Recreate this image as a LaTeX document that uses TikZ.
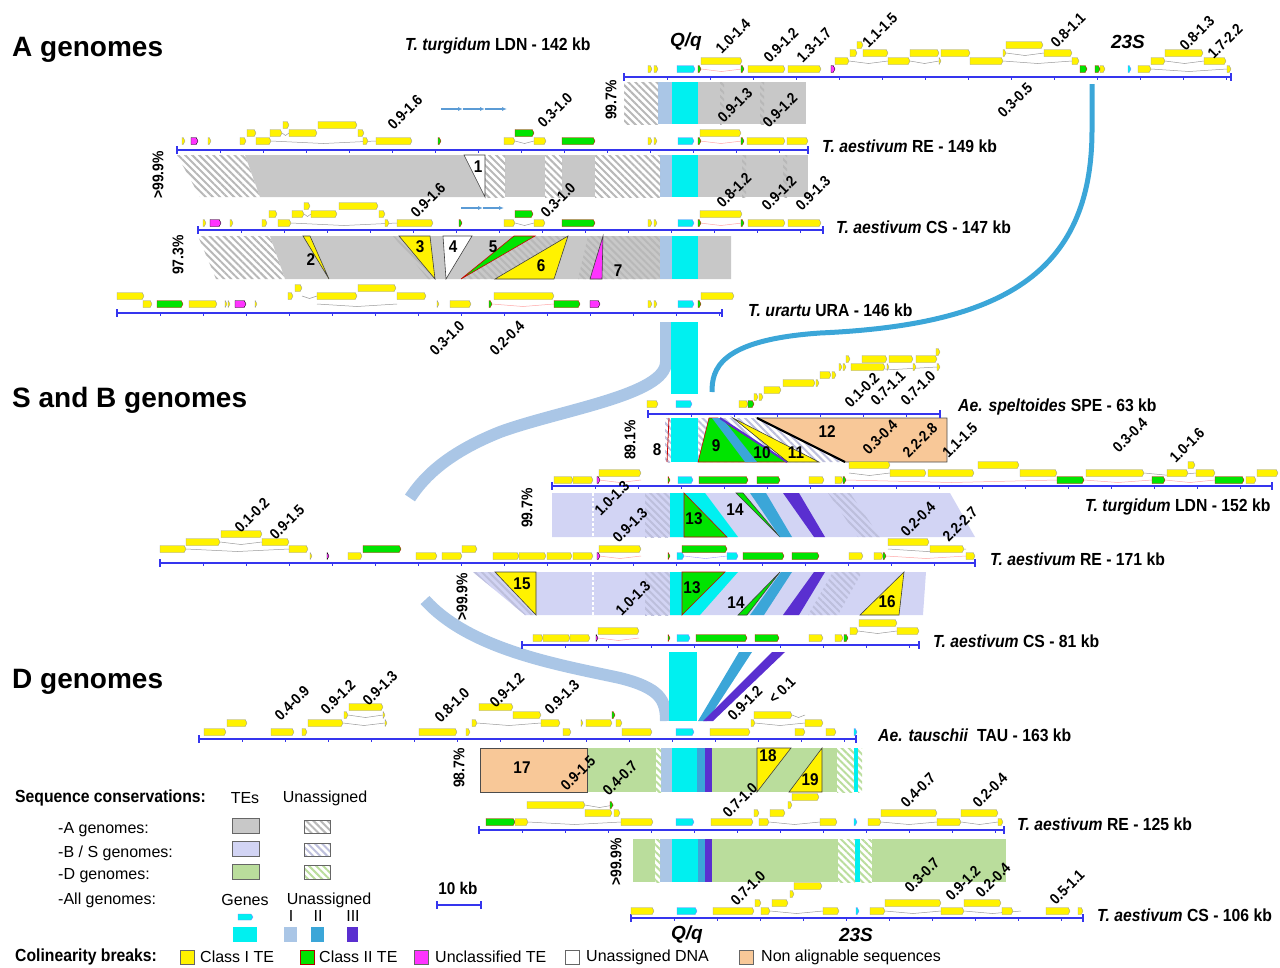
\documentclass[tikz,border=0pt]{standalone}
\usepackage{fontspec}
\setmainfont{Liberation Sans}
\newfontfamily\narrowsf[FakeStretch=0.9]{Liberation Sans}
\usetikzlibrary{arrows.meta,patterns.meta}

\definecolor{bandA}{HTML}{C8C8C8}
\definecolor{bandB}{HTML}{D2D4F4}
\definecolor{bandD}{HTML}{BADD9C}
\definecolor{unI}{HTML}{AAC6E6}
\definecolor{unII}{HTML}{3BA6D8}
\definecolor{unIII}{HTML}{5A2FD0}
\definecolor{cdsc}{HTML}{00F0F0}
\definecolor{teg}{HTML}{00E400}
\definecolor{tem}{HTML}{FF33FF}
\definecolor{peach}{HTML}{F8C898}
\definecolor{axb}{HTML}{3535EE}
\definecolor{tdblue}{HTML}{5B9BD5}

\tikzset{
  gene/.style={draw=black!40, fill=yellow, line width=0.4pt},
  tetwo/.style={draw=red!80!black, fill=teg, line width=0.3pt},
  teun/.style={fill=tem},
  cds/.style={draw=blue!50, fill=cdsc, line width=0.4pt},
  chr/.style={draw=axb, line width=1.1pt},
  intr/.style={draw=black!40, line width=0.5pt},
  pintr/.style={draw=red!35, line width=0.5pt},
  tri/.style={draw=black!75, line width=0.6pt},
  swatch/.style={draw=black!60, line width=0.8pt},
  tdarr/.style={tdblue, line width=1.2pt, -{Latex[length=5pt,width=4pt]}},
  num/.style={font=\narrowsf\bfseries\fontsize{15}{15}\selectfont, rotate=45, inner sep=0pt},
  pct/.style={font=\narrowsf\bfseries\fontsize{15.5}{16}\selectfont, rotate=90, inner sep=0pt},
  brk/.style={font=\narrowsf\bfseries\fontsize{17}{17}\selectfont, inner sep=0pt},
  glab/.style={font=\narrowsf\bfseries\fontsize{17.5}{18}\selectfont, anchor=west, inner sep=0pt},
  locus/.style={font=\bfseries\itshape\fontsize{19}{19}\selectfont, inner sep=0pt},
  title/.style={font=\bfseries\fontsize{28}{28}\selectfont, anchor=west, inner sep=0pt},
  leg/.style={font=\fontsize{16}{16}\selectfont, inner sep=0pt},
  legb/.style={font=\narrowsf\bfseries\fontsize{17.5}{18}\selectfont, anchor=west, inner sep=0pt},
  hatA/.style={pattern={Lines[angle=-45,distance=5pt,line width=2pt]}, pattern color=black!28},
  hatB/.style={pattern={Lines[angle=-45,distance=5pt,line width=2pt]}, pattern color=bandB!90!black},
  hatD/.style={pattern={Lines[angle=-45,distance=5pt,line width=2pt]}, pattern color=bandD}
}

\newcommand\genes[3][gene]{\foreach \a/\b in {#3}{\draw[#1] (\a,#2-3.5) -- (\b-1.8,#2-3.5) -- (\b,#2) -- (\b-1.8,#2+3.5) -- (\a,#2+3.5) -- cycle;}}
\newcommand\introns[2][intr]{\foreach \a/\b/\y in {#2}{\draw[#1] (\a,\y) -- ({(\a+\b)/2},\y+2.5) -- (\b,\y);}}
\newcommand\chrom[3]{%
  \draw[chr] (#1,#3) -- (#2,#3);
  \draw[chr] (#1,#3-4) -- (#1,#3+4) (#2,#3-4) -- (#2,#3+4);
  \foreach \k in {1,...,24}{\pgfmathsetmacro\tx{#1+43*\k}%
    \ifdim\tx pt<#2pt\draw[chr,line width=0.5pt] (\tx,#3) -- (\tx,#3+3);\fi}}

\begin{document}
\begin{tikzpicture}[x=1pt,y=-1pt]
\useasboundingbox (0,0) rectangle (1280,967);

\node[title] (tA) at (12,50) {A genomes};
\node[title] (tB) at (12,400) {S and B genomes};
\node[title] (tD) at (12,682) {D genomes};

\draw[unI, line width=12pt] (666,322) -- (666,362) .. controls (666,395) and (560,410) .. (500,432) .. controls (450,452) and (425,475) .. (410,498);
\draw[unI, line width=12pt] (425,600) .. controls (470,650) and (560,665) .. (620,678) .. controls (660,688) and (666,700) .. (666,721);
\draw[unII, line width=5pt] (1092,84) -- (1092,130) .. controls (1092,275) and (1000,325) .. (820,333) .. controls (718,340) and (712,370) .. (712,392);
\fill[cdsc] (671,322) rectangle (698,394);
\fill[cdsc] (669,652) rectangle (697,721);
\fill[unII] (739,652) -- (752,652) -- (707,721) -- (698,721) -- cycle;
\fill[unIII] (772,652) -- (785,652) -- (713,721) -- (703,721) -- cycle;

\foreach \c/\a/\b in {bandA/698/806, unI/658/672, cdsc/672/698} \fill[fill=\c] (\a,82) rectangle (\b,124);
\foreach \a/\b in {624/658,720/724,760/764} \fill[hatA] (\a,82) rectangle (\b,124);

\fill[hatA] (177,155) -- (245,155) -- (260,197) -- (200,197) -- cycle;
\fill[bandA] (245,155) -- (485,155) -- (485,197) -- (260,197) -- cycle;
\foreach \c/\a/\b in {bandA/505/545, bandA/562/595, unI/660/672, cdsc/672/698, bandA/698/808} \fill[fill=\c] (\a,155) rectangle (\b,197);
\foreach \a/\b in {485/505,545/562,595/660,742/746,783/787} \fill[hatA] (\a,155) rectangle (\b,197);
\draw[tri, fill=white] (464,155) -- (485,155) -- (485,197) -- cycle;

\fill[hatA] (198,236) -- (270,236) -- (285,279) -- (216,279) -- cycle;
\fill[bandA] (270,236) -- (731,236) -- (731,279) -- (285,279) -- cycle;
\fill[hatA] (393,236) -- (400,236) -- (436,279) -- (428,279) -- cycle;
\fill[hatA] (535,236) -- (568,236) -- (495,279) -- (461,279) -- cycle;
\fill[hatA] (588,236) -- (660,236) -- (660,279) -- (578,279) -- cycle;
\fill[unI] (660,236) rectangle (672,279);
\fill[cdsc] (672,236) rectangle (698,279);
\draw[tri, fill=yellow] (303,236) -- (310,236) -- (329,279) -- cycle;
\draw[tri, fill=yellow] (399,236) -- (430,236) -- (435,279) -- cycle;
\draw[tri, fill=white] (443,236) -- (472,236) -- (446,279) -- cycle;
\draw[tri, fill=teg, draw=red!80!black] (514,236) -- (535,236) -- (461,279) -- cycle;
\draw[tri, fill=yellow] (568,236) -- (554,279) -- (495,279) -- cycle;
\draw[tri, fill=tem] (603,236) -- (602,279) -- (590,279) -- cycle;

\fill[hatB] (665,418) rectangle (671,462);
\draw[red!80!black, line width=0.8pt] (669,418) -- (667,462);
\fill[cdsc] (671,418) rectangle (698,462);
\fill[hatB] (698,418) -- (757,418) -- (845,462) -- (698,462) -- cycle;
\draw[tri, fill=teg, draw=red!80!black] (709,418) -- (718,418) -- (787,462) -- (698,462) -- cycle;
\fill[unII] (712,418) -- (722,418) -- (757,462) -- (745,462) -- cycle;
\draw[unIII, line width=2pt] (720,418) -- (787,462);
\draw[tri, fill=yellow] (733,418) -- (819,462) -- (788,462) -- cycle;
\draw[draw=black!70, fill=peach, line width=0.8pt] (757,418) -- (947,418) -- (947,462) -- (845,462) -- cycle;
\draw[line width=2.2pt] (757,418) -- (845,462);

\fill[bandB] (552,493) -- (950,493) -- (975,537) -- (552,537) -- cycle;
\fill[hatB] (645,493) rectangle (670,537);
\fill[hatB] (828,493) -- (850,493) -- (880,537) -- (858,537) -- cycle;
\draw[white, line width=1.5pt, dash pattern=on 3pt off 2pt] (593,493) -- (593,537);
\fill[cdsc] (670,493) -- (705,493) -- (738,537) -- (670,537) -- cycle;
\draw[tri, fill=teg, draw=red!80!black] (684,493) -- (684,537) -- (727,537) -- cycle;
\draw[tri, fill=teg] (736,493) -- (743,493) -- (780,537) -- cycle;
\fill[unII] (750,493) -- (766,493) -- (792,537) -- (780,537) -- cycle;
\fill[unIII] (783,493) -- (799,493) -- (825,537) -- (814,537) -- cycle;

\fill[bandB] (473,572) -- (926,572) -- (923,615) -- (525,615) -- cycle;
\fill[hatB] (473,572) -- (495,572) -- (536,615) -- (525,615) -- cycle;
\fill[hatB] (645,572) rectangle (670,615);
\fill[hatB] (833,572) -- (862,572) -- (838,615) -- (808,615) -- cycle;
\draw[white, line width=1.5pt, dash pattern=on 3pt off 2pt] (593,572) -- (593,615);
\fill[cdsc] (670,572) -- (738,572) -- (700,615) -- (670,615) -- cycle;
\draw[tri, fill=yellow] (495,572) -- (536,572) -- (536,615) -- cycle;
\draw[tri, fill=teg, draw=red!80!black] (682,572) -- (725,572) -- (682,615) -- cycle;
\draw[tri, fill=teg] (780,572) -- (747,615) -- (738,615) -- cycle;
\fill[unII] (781,572) -- (792,572) -- (764,615) -- (750,615) -- cycle;
\fill[unIII] (814,572) -- (825,572) -- (799,615) -- (783,615) -- cycle;
\draw[tri, fill=yellow] (904,572) -- (899,615) -- (860,615) -- cycle;

\foreach \c/\a/\b in {bandD/587/656, unI/661/672, cdsc/672/697, unII/697/705, unIII/705/712, bandD/712/837, cdsc/854/858} \fill[fill=\c] (\a,748) rectangle (\b,792);
\foreach \a/\b in {656/661,837/854,858/862} \fill[hatD] (\a,748) rectangle (\b,792);
\draw[fill=peach, draw=black!70, line width=0.8pt] (480,748) rectangle (587,792);
\draw[tri, fill=yellow] (757,748) -- (791,748) -- (757,792) -- cycle;
\draw[tri, fill=yellow] (822,748) -- (822,792) -- (789,792) -- cycle;

\foreach \c/\a/\b in {bandD/633/655, unI/660/672, cdsc/672/698, unII/698/705, unIII/705/712, bandD/712/838, cdsc/855/860, bandD/872/1006} \fill[fill=\c] (\a,839) rectangle (\b,882);
\foreach \a/\b in {655/660,838/855,860/872} \fill[hatD] (\a,839) rectangle (\b,882);

\introns{849/888/61, 910/939/61, 1003/1072/61, 1006/1044/53, 1151/1227/69, 1165/1204/61}
\introns[pintr]{701/742/69}
\chrom{624}{1231}{77}
\genes{69}{648/652,654/658,748/785,788/821,1100/1105,1138/1151,1227/1231}
\genes[tetwo]{69}{698/701,741/744,1080/1087,1095/1100}
\genes[teun]{69}{831/835}
\genes[cds]{69}{677/695,1128/1131}
\genes{61}{701/742,835/849,888/910,939/941,970/1003,1072/1079,1151/1165,1204/1226}
\genes{53}{850/857,863/888,910/939,941/970,1003/1006,1044/1072,1165/1203}
\genes{45}{857/863,1006/1043}

\introns{271/376/141, 282/289/133, 515/534/141}
\introns[pintr]{700/742/141}
\chrom{177}{808}{150}
\genes{141}{182/185,208/211,240/246,256/271,363/368,376/412,504/515,534/546,648/652,654/657,747/785,787/808}
\genes[teun]{141}{191/198}
\genes[tetwo]{141}{438/441,562/595,698/701,741/744}
\genes[cds]{141}{678/694}
\genes{133}{247/256,270/282,289/317,358/364,700/741}
\genes[tetwo]{133}{515/534}
\genes{125}{283/289,318/357}
\foreach \a/\b in {441/463,463/485,485/507} \draw[tdarr] (\a,109) -- (\b,109);

\introns{291/397/223, 304/311/214, 515/534/223}
\introns[pintr]{700/742/223}
\chrom{198}{823}{230}
\genes{223}{203/206,230/233,262/267,278/291,385/389,397/433,504/515,534/545,648/652,654/657,748/785,788/821}
\genes[teun]{223}{210/221}
\genes[tetwo]{223}{459/462,562/595,698/701,741/744}
\genes[cds]{223}{678/694}
\genes{214}{269/277,292/304,311/337,379/385,700/742}
\genes[tetwo]{214}{515/533}
\genes{206}{304/310,339/378}
\foreach \a/\b in {461/483,483/504} \draw[tdarr] (\a,208) -- (\b,208);

\introns{317/397/304, 302/317/296}
\introns[pintr]{492/554/304}
\chrom{117}{722}{313}
\genes{304}{143/152,189/217,225/227,228/230,255/257,437/439,450/471,648/652,654/657}
\genes[tetwo]{304}{157/183,489/492,554/580,698/701}
\genes[teun]{304}{235/246,590/600}
\genes[cds]{304}{678/694}
\genes{296}{117/144,288/293,317/357,397/426,494/554,701/734}
\genes{288}{295/302,358/396}

\introns{851/937/367}
\chrom{648}{940}{414}
\genes{404}{647/658,739/748}
\genes[tetwo]{404}{748/754}
\genes[cds]{404}{676/692}
\genes{397}{754/758,759/763}
\genes{390}{764/781}
\genes{383}{783/815,816/819}
\genes{375}{820/831,832/836}
\genes{367}{839/842,843/846,851/885,887/889,913/916,937/940}
\genes{359}{846/850,862/887,889/913,916/937}
\genes{352}{936/940}

\introns{849/890/473, 1144/1196/473}
\introns[pintr]{599/641/480, 846/1057/480, 1084/1152/480, 1165/1215/480}
\chrom{552}{1272}{486}
\genes{480}{554/573,573/593,809/824,835/843,1246/1256}
\genes[teun]{480}{597/600}
\genes[cds]{480}{678/693}
\genes[tetwo]{480}{668/670,699/748,757/780,843/846,1057/1084,1152/1165,1215/1244}
\genes{473}{599/641,890/926,928/974,1020/1057,1086/1144,1167/1188,1196/1215,1257/1278}
\genes{465}{849/890,978/1019,1188/1195}

\introns{186/289/549, 220/262/542, 888/966/549}
\introns[pintr]{599/641/556, 886/966/556}
\introns[draw=blue!40]{684/727/556}
\chrom{160}{975}{563}
\genes{556}{310/312,348/362,416/437,442/462,493/519,519/546,547/572,573/593,849/863,874/883,966/975}
\genes[teun]{556}{327/329,597/600}
\genes[cds]{556}{677/684,727/738}
\genes[tetwo]{556}{668/670,743/784,792/819,883/886}
\genes{549}{160/186,289/308,462/477,599/641,930/964}
\genes[tetwo]{549}{363/401,682/727}
\genes{542}{186/220,262/289,888/929}
\genes{534}{221/262}

\introns{858/897/631}
\introns[pintr]{598/639/638}
\chrom{522}{919}{645}
\genes{638}{533/543,543/570,570/590,809/823,835/843}
\genes[teun]{638}{596/598}
\genes[cds]{638}{677/690}
\genes[tetwo]{638}{668/670,696/747,755/779,844/848}
\genes{631}{598/639,850/858,897/919}
\genes{623}{859/897}

\introns{348/383/715, 343/385/723, 477/541/723, 513/541/715, 755/805/723, 792/805/715}
\chrom{199}{856}{739}
\genes{732}{204/226,271/294,302/307,419/457,466/470,563/571,622/652,710/750,795/805,826/836}
\genes[cds]{732}{676/694,854/857}
\genes{723}{227/247,308/343,385/387,472/477,541/560,581/583,586/612,616/622,751/755,805/823}
\genes{715}{344/348,383/385,513/541,754/792}
\genes[tetwo]{715}{612/615}
\genes{707}{349/383,479/513}

\introns{528/621/822, 769/820/822, 881/937/822, 961/998/822, 585/614/805}
\chrom{479}{1004}{830}
\genes[tetwo]{822}{486/515}
\genes{822}{515/528,621/653,711/753,759/769,820/837,868/881,937/961,998/1003}
\genes[cds]{822}{676/694,854/857}
\genes{813}{585/612,614/620,754/759,770/785,881/937,961/998}
\genes{805}{527/585,788/792}
\genes[tetwo]{805}{610/613}
\genes{797}{792/819}

\introns{770/823/911, 885/941/911, 964/1021/911}
\chrom{631}{1083}{918}
\genes{911}{631/654,713/754,761/770,823/839,870/885,941/964,1002/1013,1046/1070,1078/1083}
\genes[cds]{911}{677/697,856/859}
\genes{903}{755/761,772/788,885/941,964/1001}
\genes{894}{790/794}
\genes{886}{794/822}

\node[glab] (gA1) at (405,46) {\textit{T. turgidum} LDN - 142 kb};
\node[glab] (gA2) at (822,146) {\textit{T. aestivum} RE - 149 kb};
\node[glab] (gA3) at (836,227) {\textit{T. aestivum} CS - 147 kb};
\node[glab] (gA4) at (748,310) {\textit{T. urartu} URA - 146 kb};
\node[glab] (gB1) at (958,407) {\textit{Ae. speltoides} SPE - 63 kb};
\node[glab] (gB2) at (1085,507) {\textit{T. turgidum} LDN - 152 kb};
\node[glab] (gB3) at (990,559) {\textit{T. aestivum} RE - 171 kb};
\node[glab] (gB4) at (933,641) {\textit{T. aestivum} CS - 81 kb};
\node[glab] (gD1) at (878,735) {\textit{Ae. tauschii}\ \ TAU - 163 kb};
\node[glab] (gD2) at (1017,824) {\textit{T. aestivum} RE - 125 kb};
\node[glab] (gD3) at (1097,915) {\textit{T. aestivum} CS - 106 kb};

\node[locus] (qA) at (686,42) {Q/q};
\node[locus] (sA) at (1128,42) {23S};
\node[locus] (qD) at (687,935) {Q/q};
\node[locus] (sD) at (856,935) {23S};

\foreach \x/\y/\t [count=\i] in {733/36/1.0-1.4, 781/45/0.9-1.2, 814/45/1.3-1.7, 880/30/1.1-1.5, 1068/30/0.8-1.1, 1197/33/0.8-1.3, 1225/41/1.7-2.2, 735/105/0.9-1.3, 780/110/0.9-1.2, 1015/100/0.3-0.5, 405/112/0.9-1.6, 555/110/0.3-1.0, 428/200/0.9-1.6, 558/200/0.3-1.0, 734/190/0.8-1.2, 779/193/0.9-1.2, 813/193/0.9-1.3, 447/338/0.3-1.0, 507/338/0.2-0.4}
  \node[num] (nA\i) at (\x,\y) {\t};
\foreach \x/\y/\t [count=\i] in {862/390/0.1-0.2, 888/388/0.7-1.1, 918/388/0.7-1.0, 880/437/0.3-0.4, 920/440/2.2-2.8, 960/440/1.1-1.5, 1130/435/0.3-0.4, 1187/445/1.0-1.6, 612/498/1.0-1.3, 630/525/0.9-1.3, 918/519/0.2-0.4, 960/524/2.2-2.7, 252/515/0.1-0.2, 287/522/0.9-1.5, 633/598/1.0-1.3}
  \node[num] (nB\i) at (\x,\y) {\t};
\foreach \x/\y/\t [count=\i] in {292/703/0.4-0.9, 338/697/0.9-1.2, 380/688/0.9-1.3, 452/705/0.8-1.0, 507/690/0.9-1.2, 562/697/0.9-1.3, 745/703/0.9-1.2, 782/690/< 0.1, 578/773/0.9-1.5, 620/778/0.4-0.7, 740/800/0.7-1.0, 918/790/0.4-0.7, 990/790/0.2-0.4, 748/888/0.7-1.0, 922/875/0.3-0.7, 963/883/0.9-1.2, 993/880/0.2-0.4, 1067/887/0.5-1.1}
  \node[num] (nD\i) at (\x,\y) {\t};

\foreach \x/\y/\t [count=\i] in {611/100/99.7\%, 158/175/>99.9\%, 178/255/97.3\%, 630/440/89.1\%, 527/508/99.7\%, 462/597/>99.9\%, 459/768/98.7\%, 616/862/>99.9\%}
  \node[pct] (p\i) at (\x,\y) {\t};

\foreach \x/\y/\t [count=\i] in {478/167/1, 311/260/2, 420/247/3, 453/247/4, 493/247/5, 541/266/6, 618/271/7, 657/450/8, 716/446/9, 762/453/10, 796/453/11, 827/432/12, 694/519/13, 735/510/14, 692/588/13, 736/603/14, 522/584/15, 887/602/16, 522/768/17, 768/756/18, 810/780/19}
  \node[brk] (b\i) at (\x,\y) {\t};

\node[legb] (lgSeq) at (15,798) {Sequence conservations:};
\node[leg] (lgTE) at (245,798) {TEs};
\node[leg] (lgUn) at (325,798) {Unassigned};
\node[leg, anchor=west] (lgA) at (58,830) {-A genomes:};
\node[leg, anchor=west] (lgB) at (58,853) {-B / S genomes:};
\node[leg, anchor=west] (lgD) at (58,876) {-D genomes:};
\node[leg, anchor=west] (lgAll) at (58,900) {-All genomes:};
\draw[swatch, fill=bandA] (232,818) rectangle (259,833);
\draw[swatch, fill=bandB] (232,841) rectangle (259,856);
\draw[swatch, fill=bandD] (232,864) rectangle (259,879);
\draw[swatch, hatA] (304,820) rectangle (330,833);
\draw[swatch, hatB] (304,843) rectangle (330,856);
\draw[swatch, hatD] (304,865) rectangle (330,879);
\node[leg] (lgG) at (245,900) {Genes};
\node[leg] (lgU2) at (329,900) {Unassigned};
\node[leg] (lgI) at (291,916) {I};
\node[leg] (lgII) at (318,916) {II};
\node[leg] (lgIII) at (353,916) {III};
\draw[cds] (238,914) -- (251,914) -- (253,917) -- (251,920) -- (238,920) -- cycle;
\fill[cdsc] (233,927) rectangle (257,942);
\fill[unI] (284,927) rectangle (297,942);
\fill[unII] (311,927) rectangle (324,942);
\fill[unIII] (347,927) rectangle (358,942);
\node[brk] (lg10) at (458,888) {10 kb};
\draw[chr] (437,905) -- (481,905) (437,901) -- (437,909) (481,901) -- (481,909);

\node[legb] (lgCol) at (15,957) {Colinearity breaks:};
\draw[swatch, fill=yellow] (180,950) rectangle (194,964);
\draw[swatch, fill=teg, draw=red!70!black] (300,950) rectangle (314,964);
\draw[swatch, fill=tem] (414,950) rectangle (428,964);
\draw[swatch, fill=white] (565,950) rectangle (579,964);
\draw[swatch, fill=peach] (739,950) rectangle (753,964);
\node[leg, anchor=west] (lc1) at (200,957) {Class I TE};
\node[leg, anchor=west] (lc2) at (319,957) {Class II TE};
\node[leg, anchor=west] (lc3) at (435,957) {Unclassified TE};
\node[leg, anchor=west] (lc4) at (586,957) {Unassigned DNA};
\node[leg, anchor=west] (lc5) at (761,957) {Non alignable sequences};
\end{tikzpicture}
\end{document}
